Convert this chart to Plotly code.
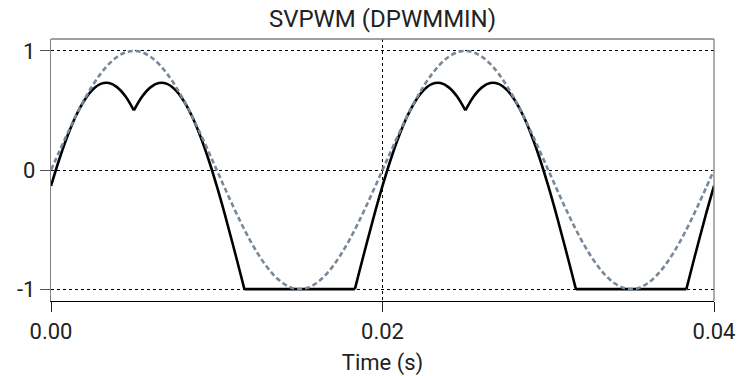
import plotly.graph_objects as go

# Time axis samples (milliseconds); None splits the curve at its sharp corners
t_ms_pwm = [0.0, 0.5, 1.0, 1.5, 2.0, 2.5, 3.0, 3.5, 4.0, 4.5, 5.0, None,
            5.0, 5.5, 6.0, 6.5, 7.0, 7.5, 8.0, 8.5, 9.0, 9.5, 10.0, 10.5, 11.0, 11.5, 11.667, None,
            11.667, 18.333, None,
            18.333, 18.5, 19.0, 19.5, 20.0, 20.5, 21.0, 21.5, 22.0, 22.5, 23.0, 23.5, 24.0, 24.5, 25.0, None,
            25.0, 25.5, 26.0, 26.5, 27.0, 27.5, 28.0, 28.5, 29.0, 29.5, 30.0, 30.5, 31.0, 31.5, 31.667, None,
            31.667, 38.333, None,
            38.333, 38.5, 39.0, 39.5, 40.0]
# DPWMMIN modulating signal (black)
v_dpwmmin = [-0.134, 0.090, 0.287, 0.453, 0.582, 0.673, 0.723, 0.730, 0.694, 0.617, 0.500, None,
             0.500, 0.617, 0.694, 0.730, 0.723, 0.673, 0.582, 0.453, 0.287, 0.090, -0.134, -0.379, -0.640,
             -0.909, -1.0, None,
             -1.0, -1.0, None,
             -1.0, -0.909, -0.640, -0.379, -0.134, 0.090, 0.287, 0.453, 0.582, 0.673, 0.723, 0.730, 0.694,
             0.617, 0.500, None,
             0.500, 0.617, 0.694, 0.730, 0.723, 0.673, 0.582, 0.453, 0.287, 0.090, -0.134, -0.379, -0.640,
             -0.909, -1.0, None,
             -1.0, -1.0, None,
             -1.0, -0.909, -0.640, -0.379, -0.134]

t_ms_ref = [0.0, 0.5, 1.0, 1.5, 2.0, 2.5, 3.0, 3.5, 4.0, 4.5, 5.0, 5.5, 6.0, 6.5, 7.0, 7.5, 8.0, 8.5, 9.0, 9.5,
            10.0, 10.5, 11.0, 11.5, 12.0, 12.5, 13.0, 13.5, 14.0, 14.5, 15.0, 15.5, 16.0, 16.5, 17.0, 17.5,
            18.0, 18.5, 19.0, 19.5, 20.0, 20.5, 21.0, 21.5, 22.0, 22.5, 23.0, 23.5, 24.0, 24.5, 25.0, 25.5,
            26.0, 26.5, 27.0, 27.5, 28.0, 28.5, 29.0, 29.5, 30.0, 30.5, 31.0, 31.5, 32.0, 32.5, 33.0, 33.5,
            34.0, 34.5, 35.0, 35.5, 36.0, 36.5, 37.0, 37.5, 38.0, 38.5, 39.0, 39.5, 40.0]
# Reference sinusoid (dashed)
v_ref = [0.000, 0.156, 0.309, 0.454, 0.588, 0.707, 0.809, 0.891, 0.951, 0.988, 1.000, 0.988, 0.951, 0.891,
         0.809, 0.707, 0.588, 0.454, 0.309, 0.156, 0.000, -0.156, -0.309, -0.454, -0.588, -0.707, -0.809,
         -0.891, -0.951, -0.988, -1.000, -0.988, -0.951, -0.891, -0.809, -0.707, -0.588, -0.454, -0.309,
         -0.156,
         0.000, 0.156, 0.309, 0.454, 0.588, 0.707, 0.809, 0.891, 0.951, 0.988, 1.000, 0.988, 0.951, 0.891,
         0.809, 0.707, 0.588, 0.454, 0.309, 0.156, 0.000, -0.156, -0.309, -0.454, -0.588, -0.707, -0.809,
         -0.891, -0.951, -0.988, -1.000, -0.988, -0.951, -0.891, -0.809, -0.707, -0.588, -0.454, -0.309,
         -0.156, 0.000]

x_tickvals = [0.0, 0.02, 0.04]
x_ticktext = ["0.00", "0.02", "0.04"]
y_tickvals = [-1, 0, 1]
y_ticktext = ["-1", "0", "1"]

FONT = "Roboto"

fig = go.Figure()
fig.add_trace(go.Scatter(x=[None if t is None else t / 1000 for t in t_ms_pwm], y=v_dpwmmin, mode="lines",
                         connectgaps=False,
                         line=dict(color="black", width=2.6, shape="spline"), showlegend=False))
fig.add_trace(go.Scatter(x=[t / 1000 for t in t_ms_ref], y=v_ref, mode="lines",
                         line=dict(color="#778899", width=2.6, dash="5px,3px", shape="spline"),
                         showlegend=False))

fig.update_layout(
    width=740, height=376,
    margin=dict(l=51, r=26, t=39, b=75, autoexpand=False),
    paper_bgcolor="white", plot_bgcolor="white",
    font=dict(family=FONT, size=22, color="#222222"),
    title=dict(text="SVPWM (DPWMMIN)", x=0.5, xref="paper", y=1 - 19 / 376, yref="container",
               xanchor="center", yanchor="middle", font=dict(family=FONT, size=24, color="#222222")),
    xaxis=dict(range=[0, 0.04], tickvals=x_tickvals, ticktext=x_ticktext, automargin=False,
               ticks="outside", ticklen=10, tickcolor="#222222", tickwidth=1,
               showline=True, linecolor="black", linewidth=1.3, mirror=False,
               showgrid=True, gridcolor="black", gridwidth=1, griddash="dot",
               zeroline=False,
               title=dict(text="Time (s)", standoff=13, font=dict(family=FONT, size=22))),
    yaxis=dict(range=[-1.1, 1.1], tickvals=y_tickvals, ticktext=y_ticktext, automargin=False,
               ticks="outside", ticklen=10, tickcolor="#555555", tickwidth=1,
               showline=True, linecolor="#808080", linewidth=1.3, mirror=False,
               showgrid=True, gridcolor="black", gridwidth=1, griddash="dot",
               zeroline=False),
    shapes=[
        dict(type="line", xref="paper", yref="paper", x0=0, x1=1, y0=1, y1=1,
             line=dict(color="#808080", width=1.3)),
        dict(type="line", xref="paper", yref="paper", x0=1, x1=1, y0=1, y1=0,
             line=dict(color="#808080", width=1.3)),
    ],
)

fig.write_html("out.html", config={"displayModeBar": False},
               post_script="document.body.style.margin='0';")
